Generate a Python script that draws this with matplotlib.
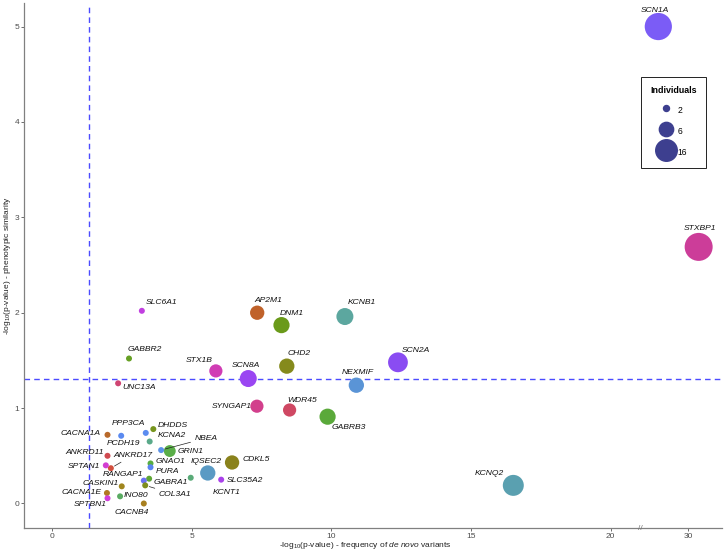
import numpy as np
import matplotlib
matplotlib.use("Agg")
import matplotlib.pyplot as plt
from matplotlib.lines import Line2D

plt.rcParams['font.family'] = ['Liberation Sans', 'DejaVu Sans']
plt.rcParams['mathtext.fontset'] = 'custom'
plt.rcParams['mathtext.rm'] = 'Liberation Sans'
plt.rcParams['mathtext.it'] = 'Liberation Sans:italic'

# 1. Data
genes = ["SCN1A", "STXBP1", "KCNQ2", "SCN2A", "KCNB1", "GABRB3", "DNM1", "AP2M1",
         "CHD2", "NEXMIF", "SCN8A", "STX1B", "SYNGAP1", "WDR45", "SLC6A1", "GABBR2",
         "UNC13A", "CDKL5", "IQSEC2", "SLC35A2", "KCNT1", "GRIN1", "NBEA", "KCNA2",
         "DHDDS", "PPP3CA", "PCDH19", "CACNA1A", "ANKRD11", "ANKRD17", "SPTAN1",
         "GNAO1", "PURA", "GABRA1", "RANGAP1", "COL3A1", "CASKIN1", "CACNA1E",
         "SPTBN1", "INO80", "CACNB4"]
freq_score = [24.4, 32.0, 16.51, 12.38, 10.48, 9.86, 8.21, 7.34,
              8.40, 10.89, 7.02, 5.86, 7.33, 8.50, 3.21, 2.75,
              2.36, 6.44, 5.57, 6.05, 4.96, 4.21, 3.90, 3.49,
              3.62, 3.35, 2.47, 1.98, 1.98, 2.10, 1.92,
              3.52, 3.52, 3.47, 3.28, 3.33, 2.49, 1.96,
              1.98, 2.43, 3.28]
pheno_score = [5.00, 2.69, 0.19, 1.48, 1.96, 0.91, 1.87, 2.00,
               1.44, 1.24, 1.31, 1.39, 1.02, 0.98, 2.02, 1.52,
               1.26, 0.43, 0.32, 0.25, 0.27, 0.55, 0.56, 0.65,
               0.78, 0.74, 0.71, 0.72, 0.50, 0.37, 0.40,
               0.42, 0.38, 0.26, 0.24, 0.19, 0.18, 0.11,
               0.055, 0.075, 0.0]
individuals = [28, 30, 15, 13, 9, 8, 8, 6,
               7, 7, 9, 5, 5, 5, 2, 2,
               2, 6, 7, 2, 2, 4, 2, 2,
               2, 2, 2, 2, 2, 2, 2,
               2, 2, 2, 2, 2, 2, 2,
               2, 2, 2]
legend_sizes = [2, 6, 16]
x_ticks = [0, 5, 10, 15, 20, 30]
y_ticks = [0, 1, 2, 3, 4, 5]
threshold = -np.log10(0.05)

colors = ["#7b5cf6", "#cc3d99", "#5aa0b0", "#8a4cf2", "#5ca79f", "#5aa93a", "#6a9a1a", "#c0622a",
          "#858a1c", "#5a94d6", "#9a46f2", "#d03cb4", "#d23f8c", "#cf4863", "#c13fe0", "#66a024",
          "#cf4472", "#8a821c", "#5a9ac4", "#a941ea", "#5aab78", "#5aae48", "#5b92e8", "#5aa98a",
          "#77951e", "#5b8cf0", "#5b8af0", "#b8692a", "#d04a50", "#d2503e", "#d23ed2",
          "#58ad40", "#5a84f2", "#5fa634", "#6a72f2", "#7f8e1e", "#a0861e", "#b07820",
          "#d03ed8", "#5aab62", "#a88020"]

# label offsets in pixels (dx, dy) from each point; a few get a leader line
label_offsets = [(-3, 16), (1, 18), (-24, 12), (18, 12), (17, 14), (21, -11), (10, 12), (11, 12),
                 (12, 13), (1, 13), (-2, 13), (-17, 10), (-25, 0), (13, 10), (20, 8), (16, 9),
                 (21, -4), (24, 3), (-2, 11), (24, -1), (36, -15), (21, 0), (45, 12), (22, 6),
                 (19, 4), (-17, 9), (2, -8), (-27, 1), (-23, 3), (22, 13), (-22, -1),
                 (20, 2), (17, -4), (22, -4), (-21, 6), (30, -9), (-21, 3), (-25, 1),
                 (-17, -6), (16, 1), (-12, -9)]
leader = {"NBEA", "ANKRD17", "COL3A1"}

# 2. Broken x axis: linear up to the break, compressed beyond it
x_break = 21.07
squeeze = 0.19

def fwd(x):
    x = np.asarray(x, dtype=float)
    return np.where(x <= x_break, x, x_break + (x - x_break) * squeeze)

def inv(x):
    x = np.asarray(x, dtype=float)
    return np.where(x <= x_break, x, x_break + (x - x_break) / squeeze)

def point_size(n):
    n = np.asarray(n, dtype=float)
    lo, hi = min(individuals), max(individuals)
    diam_px = 6 + 22 * np.sqrt((n - lo) / (hi - lo))
    return (diam_px * 0.72) ** 2

# 3. Plot
fig = plt.figure(figsize=(7.27, 5.52), dpi=100)
ax = fig.add_axes([24 / 727, 1 - 528.3 / 552, 698 / 727, 525.6 / 552])
ax.set_xscale('function', functions=(fwd, inv))

ax.axvline(threshold, color="#4b4bff", lw=1.0, ls=(0, (4, 3)), zorder=1)
ax.axhline(threshold, color="#4b4bff", lw=1.0, ls=(0, (4, 3)), zorder=1)

ax.scatter(freq_score, pheno_score, s=point_size(individuals), c=colors,
           edgecolors="none", zorder=3)

for g, x, y, (dx, dy) in zip(genes, freq_score, pheno_score, label_offsets):
    arrow = None
    if g in leader:
        arrow = dict(arrowstyle="-", color="#222222", lw=0.5, shrinkA=1, shrinkB=3)
    ax.annotate(g, (x, y), xytext=(dx, dy), textcoords="offset pixels",
                ha="center", va="center", fontsize=6.1, style="italic",
                color="#111111", arrowprops=arrow, zorder=4)

ax.set_xlim(-1.01, 36.4)
ax.set_ylim(-0.26, 5.25)
ax.set_xticks(x_ticks)
ax.set_yticks(y_ticks)

for side in ["top", "right"]:
    ax.spines[side].set_visible(False)
for side in ["left", "bottom"]:
    ax.spines[side].set_color("#808080")
    ax.spines[side].set_linewidth(0.9)
ax.tick_params(axis="both", length=2.5, width=0.6, color="#555555",
               labelsize=6.0, labelcolor="#4d4d4d", pad=1.0)

# break mark on the x axis
ax.text(x_break, -0.26, "//", fontsize=6, color="#777777", ha="center", va="center",
        clip_on=False, zorder=5)

ax.set_xlabel(r"-log$_{10}$(p-value) - frequency of $\it{de\ novo}$ variants",
              fontsize=6.0, color="#222222", va="center")
ax.set_ylabel(r"-log$_{10}$(p-value) - phenotypic similarity",
              fontsize=6.0, color="#222222", va="center")
ax.xaxis.set_label_coords((365 - 24) / 698, (528.3 - 545.8) / 525.6)
ax.yaxis.set_label_coords((8 - 24) / 698, 0.5)

handles = [Line2D([], [], ls="none", marker="o", color="#3d3f8f",
                  markersize=np.sqrt(point_size(n)), label=str(n))
           for n in legend_sizes]
leg = ax.legend(handles=handles, title="Individuals", loc="upper left",
                bbox_to_anchor=(641 / 727, 1 - 77 / 552), bbox_transform=fig.transFigure,
                fontsize=6.2, title_fontproperties={"weight": "bold", "size": 6.4},
                frameon=True, fancybox=False, edgecolor="#222222", framealpha=1,
                handleheight=2.0, handlelength=1.3, handletextpad=0.6,
                labelspacing=0.9, borderpad=1.1, borderaxespad=0)
leg.get_frame().set_linewidth(0.7)

fig.savefig("out.png", dpi=100)
